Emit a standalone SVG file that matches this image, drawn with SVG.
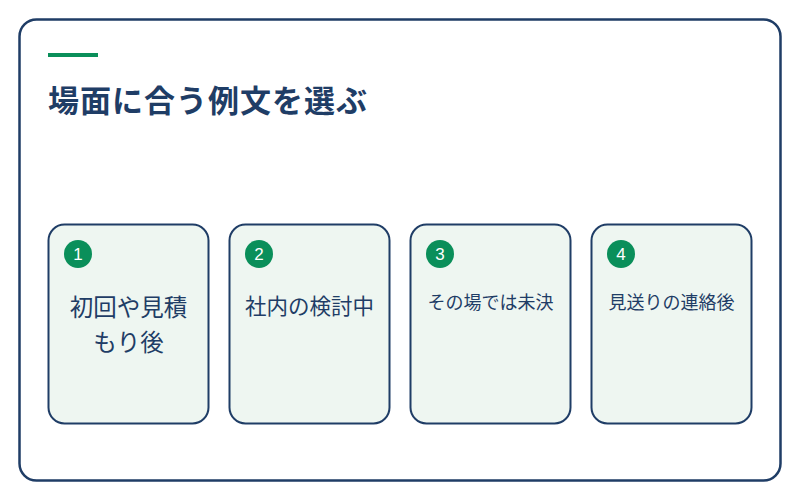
<svg xmlns="http://www.w3.org/2000/svg" width="800" height="500" viewBox="0 0 800 500">
<style>
.frame{fill:#ffffff;stroke:#1f3d66;stroke-width:2.5}
.card{fill:#eef6f1;stroke:#1f3d66;stroke-width:2}
.badge{fill:#0a8f5a}
.num{fill:#ffffff;font-family:"Liberation Sans","Noto Sans",sans-serif;font-size:17px;text-anchor:middle}
.lbl{fill:#1f3d66;font-family:"Noto Sans CJK JP",sans-serif;text-anchor:middle}
.title{fill:#1f3d66;font-family:"Noto Sans CJK JP",sans-serif;font-weight:bold;font-size:31px}
</style>
<rect class="frame" x="19.5" y="19.5" width="761" height="461" rx="17"/>
<rect x="48" y="53" width="50" height="4" fill="#0a8f5a"/>
<text class="title" x="48" y="112" textLength="319">場面に合う例文を選ぶ</text>
<g id="card1">
<rect class="card" x="48.5" y="224.5" width="160" height="199" rx="16"/>
<circle class="badge" cx="78" cy="254" r="14"/>
<text class="num" x="78" y="260">1</text>
<text class="lbl" x="128.5" y="316" font-size="23.5">初回や見積</text>
<text class="lbl" x="128.5" y="351" font-size="23.5">もり後</text>
</g>
<g id="card2">
<rect class="card" x="229.5" y="224.5" width="160" height="199" rx="16"/>
<circle class="badge" cx="259" cy="254" r="14"/>
<text class="num" x="259" y="260">2</text>
<text class="lbl" x="309.5" y="314" font-size="21.5">社内の検討中</text>
</g>
<g id="card3">
<rect class="card" x="410.5" y="224.5" width="160" height="199" rx="16"/>
<circle class="badge" cx="440" cy="254" r="14"/>
<text class="num" x="440" y="260">3</text>
<text class="lbl" x="490.5" y="309" font-size="18">その場では未決</text>
</g>
<g id="card4">
<rect class="card" x="591.5" y="224.5" width="160" height="199" rx="16"/>
<circle class="badge" cx="621" cy="254" r="14"/>
<text class="num" x="621" y="260">4</text>
<text class="lbl" x="671.5" y="309" font-size="18">見送りの連絡後</text>
</g>
<g id="connectors"/>
</svg>
